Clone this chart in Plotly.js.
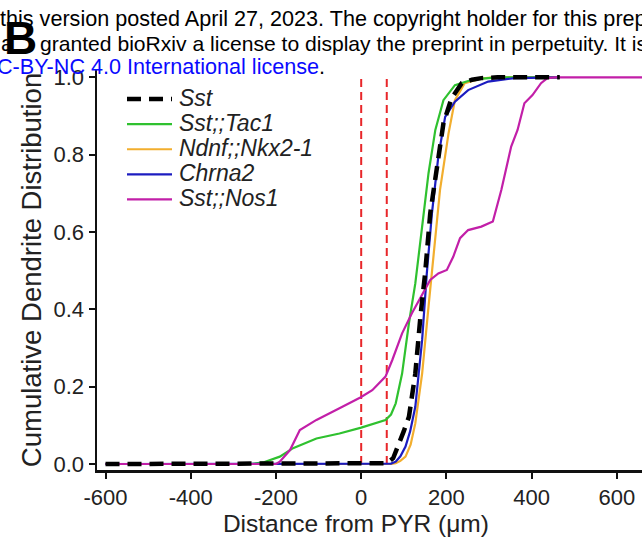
<!DOCTYPE html>
<html>
<head>
<meta charset="utf-8">
<script src="https://cdn.plot.ly/plotly-3.0.1.min.js"></script>
<style>html,body{margin:0;padding:0;background:#fff;}#chart{width:642px;height:541px;}</style>
</head>
<body>
<div id="chart"></div>
<script>
// ---- data ----
var sstX   = [-600, 40, 60, 75, 88, 100, 112, 127, 139, 150, 162, 177, 193, 212, 236, 260, 282, 320, 466];
var sstY   = [0, 0, 0.002, 0.015, 0.049, 0.085, 0.122, 0.234, 0.381, 0.493, 0.648, 0.769, 0.881, 0.946, 0.985, 0.994, 0.998, 1, 1];

var tac1X  = [-600, -260, -230, -191, -160, -105, -51, 0, 57, 70, 81, 96, 112, 127, 143, 158, 174, 193, 220, 264, 320, 466];
var tac1Y  = [0, 0, 0.004, 0.019, 0.041, 0.066, 0.079, 0.094, 0.114, 0.128, 0.157, 0.234, 0.364, 0.467, 0.614, 0.752, 0.864, 0.941, 0.980, 0.995, 1, 1];

var ndnfX  = [-600, 70, 81, 92, 104, 116, 127, 143, 158, 170, 185, 205, 220, 243, 282, 310, 466];
var ndnfY  = [0, 0, 0.002, 0.008, 0.019, 0.050, 0.105, 0.234, 0.407, 0.536, 0.709, 0.855, 0.941, 0.985, 0.997, 1, 1];

var chrnaX = [-600, 60, 70, 81, 92, 104, 115, 127, 143, 154, 166, 181, 197, 220, 251, 298, 360, 466];
var chrnaY = [0, 0, 0.001, 0.006, 0.020, 0.045, 0.085, 0.148, 0.321, 0.493, 0.648, 0.795, 0.898, 0.937, 0.967, 0.989, 0.998, 1];

var nos1X  = [-600, -200, -191, -167, -144, -105, -51, -2, 26, 57, 73, 96, 119, 143, 162, 181, 201, 216, 232, 251, 282, 309, 329, 352, 367, 383, 402, 422, 437, 455, 659];
var nos1Y  = [0, 0, 0.006, 0.036, 0.088, 0.114, 0.144, 0.172, 0.191, 0.226, 0.269, 0.338, 0.390, 0.437, 0.476, 0.493, 0.502, 0.536, 0.584, 0.605, 0.614, 0.627, 0.709, 0.821, 0.864, 0.933, 0.954, 0.985, 0.998, 1, 1];

var seriesNames = ['Sst', 'Sst;;Tac1', 'Ndnf;;Nkx2-1', 'Chrna2', 'Sst;;Nos1'];
var boundaryX = [0, 60];          // red dashed boundaries (µm)
var xTicks = [-600, -400, -200, 0, 200, 400, 600];
var yTicks = [0, 0.2, 0.4, 0.6, 0.8, 1.0];
var yTickText = ['0.0', '0.2', '0.4', '0.6', '0.8', '1.0'];

var headerLines = [
  'this version posted April 27, 2023. The copyright holder for this prep',
  'granted bioRxiv a license to display the preprint in perpetuity. It is',
  '<span style="color:#0a0aff">C-BY-NC 4.0 International license</span>.'
];

function lbl(s){ return '<span style="font-size:23px">&#8202;<i>' + s + '</i></span>'; }

var traces = [
  {x: ndnfX, y: ndnfY, name: lbl(seriesNames[2]), legendrank: 3, mode: 'lines', line: {color: '#f2ae2e', width: 2.2}},
  {x: tac1X, y: tac1Y, name: lbl(seriesNames[1]), legendrank: 2, mode: 'lines', line: {color: '#2fc12f', width: 2.2}},
  {x: chrnaX, y: chrnaY, name: lbl(seriesNames[3]), legendrank: 4, mode: 'lines', line: {color: '#1c1cc0', width: 2.2}},
  {x: nos1X, y: nos1Y, name: lbl(seriesNames[4]), legendrank: 5, mode: 'lines', line: {color: '#c21fa8', width: 2.2}},
  {x: sstX, y: sstY, name: lbl(seriesNames[0]), legendrank: 1, mode: 'lines', line: {color: '#000000', width: 4.5, dash: '14px,8px'}}
];

var shapes = boundaryX.map(function(b){
  return {type: 'line', xref: 'x', yref: 'y', x0: b, x1: b, y0: 0, y1: 1.0,
          line: {color: '#e8262a', width: 2, dash: '8px,5px'}, layer: 'below'};
});

var W = 545, H = 400, L = 97, T = 70;
function px(p){ return (p - L) / W; }
function py(p){ return (T + H - p) / H; }

var hdrFont = {family: 'Liberation Sans, Arial', size: 21.6, color: '#000'};
var hdrFont2 = {family: 'Liberation Sans, Arial', size: 21.1, color: '#000'};
var annotations = [
  {text: headerLines[0], x: px(-2), y: py(18), xref: 'paper', yref: 'paper', xanchor: 'left', yanchor: 'middle', showarrow: false, font: hdrFont},
  {text: 'a', x: px(-1), y: py(43), xref: 'paper', yref: 'paper', xanchor: 'left', yanchor: 'middle', showarrow: false, font: hdrFont},
  {text: headerLines[1], x: px(38), y: py(43), xref: 'paper', yref: 'paper', xanchor: 'left', yanchor: 'middle', showarrow: false, font: hdrFont2},
  {text: headerLines[2], x: px(-5), y: py(66), xref: 'paper', yref: 'paper', xanchor: 'left', yanchor: 'middle', showarrow: false, font: hdrFont},
  {text: '<b>B</b>', x: px(20), y: py(38), xref: 'paper', yref: 'paper', xanchor: 'center', yanchor: 'middle', showarrow: false, font: {family: 'Liberation Sans, Arial', size: 46, color: '#000'}}
];

var layout = {
  width: 642, height: 541,
  margin: {l: L, r: 0, t: T, b: 71, pad: 0},
  paper_bgcolor: '#fff', plot_bgcolor: '#fff',
  font: {family: 'Liberation Sans, Arial', color: '#222'},
  showlegend: true,
  legend: {x: px(122), y: py(81.5), xanchor: 'left', yanchor: 'top', bgcolor: 'rgba(0,0,0,0)',
           font: {size: 17, color: '#222', family: 'Liberation Sans, Arial'}, itemwidth: 45, traceorder: 'normal'},
  xaxis: {range: [-620, 659], tickvals: xTicks, ticktext: xTicks.map(String), showgrid: false, zeroline: false,
          showline: true, linecolor: '#111', linewidth: 2.5, ticks: 'outside', ticklen: 6, tickwidth: 2, tickcolor: '#111',
          tickfont: {size: 22, color: '#222'},
          title: {text: 'Distance from PYR (\u03bcm)&nbsp;&nbsp;&nbsp;&nbsp;', font: {size: 24.5, color: '#222'}, standoff: 6}},
  yaxis: {range: [-0.0155, 1.019], tickvals: yTicks, ticktext: yTickText, showgrid: false, zeroline: false,
          showline: true, linecolor: '#111', linewidth: 2.5, ticks: 'outside', ticklen: 6, tickwidth: 2, tickcolor: '#111',
          tickfont: {size: 22, color: '#222'},
          title: {text: 'Cumulative Dendrite Distribution', font: {size: 27.5, color: '#222'}, standoff: 4}},
  shapes: shapes,
  annotations: annotations
};

Plotly.newPlot('chart', traces, layout, {displayModeBar: false, staticPlot: true});
</script>
</body>
</html>
